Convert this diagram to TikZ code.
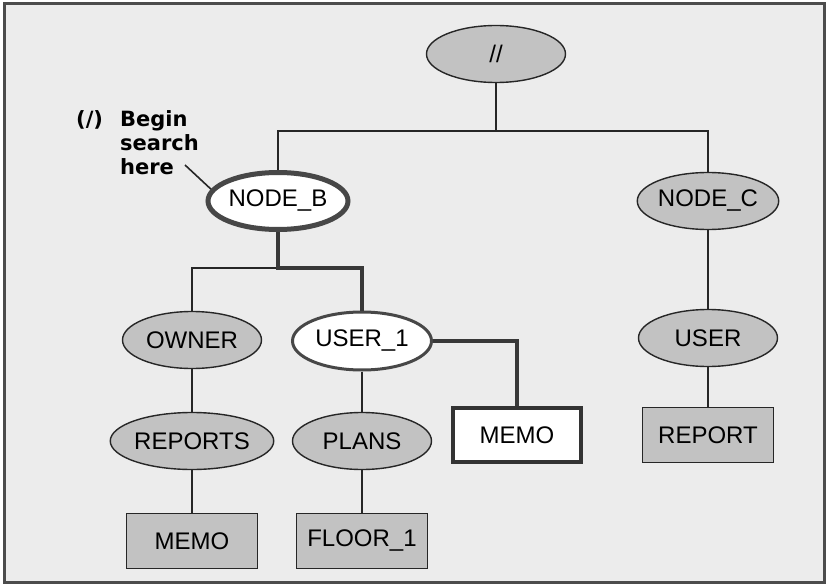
\documentclass[tikz,border=0pt]{standalone}
\usepackage{fontspec}
\setmainfont{Liberation Sans}
\newfontfamily\lblfont{DejaVu Sans}
\usetikzlibrary{shapes.geometric}
\begin{document}
\begin{tikzpicture}[x=1pt,y=-1pt,
  every node/.style={font=\fontsize{24}{28}\selectfont, inner sep=0pt},
  shadedell/.style={ellipse, draw=black!85, line width=1.4pt, fill=gray!48, minimum width=139pt, minimum height=57pt},
  whiteell/.style={ellipse, draw=black!72, fill=white, line width=3pt, minimum width=139pt, minimum height=58pt},
  shadedbox/.style={rectangle, draw=black!85, line width=1.4pt, fill=gray!48, minimum width=131pt, minimum height=55pt},
  whitebox/.style={rectangle, draw=black!80, line width=3.5pt, fill=white, minimum width=128pt, minimum height=54pt},
  thinline/.style={line width=1.6pt, black!85},
  thickline/.style={line width=4pt, black!78},
  lbl/.style={font=\lblfont\bfseries\fontsize{21}{24}\selectfont, align=left},
]
\useasboundingbox (0,0) rectangle (828,586);
\draw[line width=3pt, black!70, fill=gray!15] (4,4) rectangle (824,582);

% nodes
\node[shadedell] (root) at (496,54) {//};
\node[whiteell, line width=5pt, minimum width=140pt, minimum height=57pt] (nodeB) at (278,201) {NODE\_B};
\node[shadedell] (nodeC) at (708,201) {NODE\_C};
\node[shadedell] (owner) at (192,340) {OWNER};
\node[whiteell] (user1) at (362,341) {USER\_1};
\node[shadedell] (user) at (708,338) {USER};
\node[shadedell] (reports) at (192,441) {REPORTS};
\node[shadedell] (plans) at (362,441) {PLANS};
\node[whitebox] (memoW) at (517,435) {MEMO};
\node[shadedbox] (report) at (708,435) {REPORT};
\node[shadedbox] (memoA) at (192,541) {MEMO};
\node[shadedbox] (floor) at (362,541) {FLOOR\_1};

% label
\node[lbl, anchor=north west] (begin) at (120,110) {Begin\\search\\here};
\node[lbl, anchor=north west] (paren) at (76,110) {(/)};
\coordinate (lblend) at (185,165);

% connectors
\coordinate (jr) at (496,131);
\coordinate (jb) at (278,268);
\draw[thinline] (root.south) -- (jr);
\draw[thinline] (nodeB.north) |- (jr) -| (nodeC.north);
\draw[thinline] (jb) -| (owner.north);
\draw[thickline] (nodeB.south) -- (jb) -| (user1.north);
\draw[thickline] (user1.east) -| (memoW.north);
\draw[thinline] (owner.south) -- (reports.north);
\draw[thinline] (reports.south) -- (memoA.north);
\draw[thinline] (user1.south) -- (plans.north);
\draw[thinline] (plans.south) -- (floor.north);
\draw[thinline] (nodeC.south) -- (user.north);
\draw[thinline] (user.south) -- (report.north);
\draw[thinline] (lblend) -- (nodeB.170);
\end{tikzpicture}
\end{document}
